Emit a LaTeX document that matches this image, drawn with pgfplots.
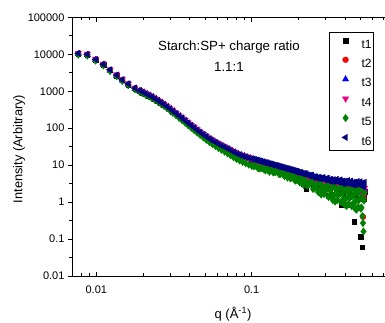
\documentclass[border=0pt]{standalone}
\usepackage{fontspec}
\setmainfont{Liberation Sans}
\usepackage{pgfplots}
\usepackage{pgfplotstable}
\pgfplotsset{compat=1.18}
\definecolor{navyc}{RGB}{0,0,128}
\definecolor{greenc}{RGB}{0,128,0}

\pgfplotstableread{
q t1 t2 t3 t4 t5 t6
0.00766 10280 10280 10180 10810 9750 10600
0.00875 9700 9700 9600 10200 9200 10000
0.0099 7080 7080 7010 7450 6720 7300
0.0111 5240 5240 5180 5510 4970 5400
0.01226 3690 3690 3650 3880 3500 3800
0.01352 2670 2670 2640 2810 2530 2750
0.01469 1990 1990 1970 2090 1890 2050
0.01606 1530 1530 1520 1610 1450 1580
0.01774 1180 1180 1170 1240 1120 1220
0.0190 1020 1020 1009 1072 967 1051
0.0199 922 922 912 969 874 950
0.0208 838 838 829 881 795 864
0.0217 765 765 757 805 726 789
0.0227 693 693 685 728 657 714
0.0238 615 615 609 647 583 634
0.0249 549 549 543 577 521 566
0.0260 487 487 482 512 459 502
0.0272 430 430 425 452 403 443
0.0285 374 374 371 394 347 386
0.0298 328 328 324 345 301 338
0.0311 284 284 281 299 259 293
0.0326 244 244 242 257 221 252
0.0341 210 210 208 221 189 217
0.0356 183 183 181 193 164 189
0.0373 157 157 156 165 139 162
0.0390 135 135 133 142 119 139
0.0408 116 116 115 122 102 120
0.0426 101 101 99.8 106 87.9 104
0.0446 86.9 86.9 86.0 91.4 75.3 89.6
0.0466 75.9 75.9 75.1 79.8 65.3 78.2
0.0488 65.9 65.9 65.2 69.3 56.0 67.9
0.0510 57.7 57.7 57.1 60.7 48.6 59.5
0.0534 50.6 50.6 50.1 53.2 42.1 52.2
0.0558 45.0 45.0 44.5 47.3 37.0 46.4
0.0584 40.4 40.4 39.9 42.4 32.7 41.6
0.0611 36.4 36.4 36.0 38.3 29.1 37.5
0.0639 33.0 33.0 32.6 34.7 26.0 34.0
0.0668 30.1 30.1 29.8 31.6 23.3 31.0
0.0699 27.3 27.3 27.0 28.7 20.8 28.1
0.0731 24.5 24.5 24.3 25.8 18.4 25.3
0.0765 22.1 22.1 21.9 23.3 16.3 22.8
0.0800 20.2 20.2 20.0 21.2 14.6 20.8
0.0837 18.7 18.7 18.5 19.7 13.3 19.3
0.0875 17.5 17.5 17.3 18.4 12.2 18.0
0.0915 16.4 16.4 16.2 17.2 11.2 16.9
0.0957 15.4 15.4 15.3 16.2 10.3 15.9
0.1000 14.3 14.6 14.4 15.3 9.6 15.0
0.105 13.4 13.3 13.5 13.7 9.49 14.1
0.110 12.7 12.6 12.9 13.0 8.20 13.4
0.115 12.1 11.9 12.2 12.3 8.34 12.7
0.120 11.3 11.3 11.5 11.5 7.61 12.0
0.125 10.8 10.8 11.0 11.0 8.20 11.5
0.130 10.2 10.2 10.5 10.4 6.60 10.9
0.135 9.7 9.87 10.1 9.9 7.25 10.5
0.140 9.2 9.40 9.60 9.4 6.55 10.0
0.145 8.8 9.02 9.22 9.0 6.87 9.6
0.150 8.4 8.65 8.83 8.6 5.70 9.2
0.155 8.1 8.37 8.54 8.3 6.01 8.9
0.160 7.7 7.99 8.16 7.9 5.41 8.5
0.165 7.4 7.71 7.87 7.6 6.00 8.2
0.170 7.2 7.43 7.58 7.3 4.60 7.9
0.175 7.0 7.24 7.39 7.1 5.26 7.7
0.180 6.7 6.96 7.10 6.8 4.64 7.4
0.185 6.5 6.77 6.91 6.6 5.14 7.2
0.190 6.2 6.49 6.62 6.35 3.81 6.9
0.195 6.1 6.30 6.43 6.2 4.31 6.7
0.200 4.14 6.11 6.24 6.02 3.76 6.37
0.208 4.95 5.83 5.95 5.63 4.50 6.28
0.216 3.19 5.55 5.66 5.51 2.90 5.86
0.224 2.35 5.26 5.38 4.91 3.69 5.80
0.232 3.37 5.08 5.18 4.84 3.06 5.29
0.240 3.93 4.84 4.94 4.46 3.57 5.34
0.248 2.49 4.64 4.74 4.46 2.26 4.80
0.256 3.08 4.50 4.60 3.96 2.80 4.84
0.264 2.45 4.38 4.47 4.09 2.23 4.41
0.272 3.63 4.25 4.34 3.83 3.30 4.65
0.280 1.76 4.14 4.22 3.96 1.60 4.35
0.288 2.88 4.05 4.14 3.50 2.62 4.59
0.296 2.22 3.98 4.06 3.62 2.02 4.09
0.304 3.07 3.90 3.98 3.40 2.79 4.39
0.312 1.52 3.83 3.91 3.62 1.38 3.89
0.320 2.26 3.76 3.84 3.13 2.05 4.06
0.328 1.63 3.70 3.78 3.43 1.48 3.62
0.336 3.11 3.64 3.72 3.23 2.83 4.03
0.344 1.13 3.58 3.66 3.52 1.03 3.74
0.352 2.33 3.53 3.61 3.00 2.12 4.09
0.360 1.67 3.48 3.55 3.17 1.52 3.53
0.368 2.64 3.44 3.51 2.96 2.40 3.94
0.376 0.85 3.39 3.47 3.25 0.99 3.39
0.384 1.84 3.36 3.43 2.72 1.67 3.64
0.392 1.29 3.33 3.40 3.11 1.17 3.15
0.400 2.82 3.29 3.36 2.91 2.56 3.69
0.408 0.86 3.25 3.32 3.26 0.78 3.38
0.416 2.04 3.21 3.28 2.68 1.85 3.80
0.424 1.39 3.19 3.25 2.91 1.26 3.20
0.432 2.39 3.16 3.23 2.70 2.17 3.66
0.440 0.85 3.13 3.20 3.02 0.77 3.11
0.448 1.58 3.10 3.17 2.50 1.44 3.37
0.456 0.30 3.09 3.16 2.89 0.96 2.93
0.464 2.63 3.07 3.14 2.72 2.39 3.45
0.472 0.68 3.06 3.12 3.07 0.62 3.18
0.480 1.85 3.04 3.10 2.53 1.68 3.59
0.488 1.23 3.02 3.08 2.76 1.12 3.03
0.496 2.33 3.01 3.07 2.57 2.12 3.48
0.504 0.117 2.99 3.05 2.88 0.66 2.97
0.512 0.061 2.95 3.01 2.38 1.31 3.21
0.516 1.30 2.30 2.60 2.20 0.42 3.00
0.520 1.40 0.40 2.20 1.50 0.27 3.30
0.524 1.50 1.30 2.00 2.00 0.16 2.60
0.528 1.20 1.70 2.40 1.60 1.10 2.90
0.532 1.90 2.00 2.30 2.40 1.80 3.40
}\datatable

\pgfplotstableread{
q t5 t6
0.1025 9.34 14.5
0.1075 9.34 13.7
0.1125 8.11 13.0
0.1175 8.26 12.3
0.1225 7.16 11.7
0.1275 7.26 11.2
0.1325 7.49 10.7
0.1375 6.33 10.2
0.1425 6.50 9.8
0.1475 6.79 9.4
0.1525 5.66 9.05
0.1575 5.98 8.7
0.1625 5.05 8.35
0.1675 5.15 8.05
0.1725 5.50 7.8
0.1775 4.37 7.55
0.1825 4.63 7.3
0.1875 5.07 7.05
0.1925 3.84 6.8
0.1975 4.35 6.6
0.204 3.36 6.35
0.212 3.50 5.95
0.220 3.95 5.86
0.228 2.77 5.48
0.236 3.03 5.20
0.244 3.59 5.26
0.252 2.31 4.67
0.260 2.90 4.82
0.268 1.86 4.59
0.276 2.17 4.30
0.284 2.85 4.51
0.292 1.64 4.24
0.300 2.05 4.10
0.308 2.88 4.38
0.316 1.46 3.78
0.324 2.19 4.10
0.332 1.14 3.90
0.340 1.55 3.65
0.348 2.37 3.98
0.356 1.13 3.70
0.364 1.58 3.58
0.372 2.51 3.95
0.380 1.09 3.30
0.388 1.86 3.70
0.396 0.86 3.52
0.404 1.26 3.25
0.412 2.10 3.67
0.420 0.89 3.36
0.428 1.33 3.26
0.436 2.29 3.67
0.444 0.87 3.02
0.452 1.63 3.43
0.460 0.69 3.28
0.468 1.07 3.04
0.476 1.93 3.45
0.484 0.74 3.18
0.492 1.19 3.09
0.500 2.31 3.51
0.508 0.72 2.88
}\hiqtable

\begin{document}
\begin{tikzpicture}
\useasboundingbox (-72.5pt,-46pt) rectangle (312.5pt,276pt);
\begin{axis}[
  at={(0pt,0pt)}, anchor=south west,
  scale only axis, width=313.5pt, height=258.7pt,
  xmode=log, ymode=log,
  xmin=0.007028, xmax=0.7313, ymin=0.01, ymax=100000,
  axis line style={black, line width=0.8pt},
  tick style={black, line width=0.8pt},
  tick align=inside,
  major tick length=4.5pt, minor tick length=3pt,
  xtick={0.01,0.1}, xticklabels={0.01,0.1},
  minor xtick={0.008,0.009,0.02,0.03,0.04,0.05,0.06,0.07,0.08,0.09,0.2,0.3,0.4,0.5,0.6,0.7},
  ytick=\empty,
  /pgf/number format/assume math mode=true,
  xticklabel style={font=\fontsize{11}{11}\selectfont, yshift=-6.5pt},
  xlabel={q (Å\textsuperscript{-1})},
  xlabel style={at={(axis description cs:0.512,0)}, anchor=north, inner sep=0pt, yshift=-30.5pt, font=\fontsize{13}{15}\selectfont},
  legend cell align=left,
  legend image code/.code={\path[draw=none,fill=none] (0pt,0pt) rectangle (30pt,9pt); \draw[#1] plot coordinates {(15pt,4.3pt)};},
  legend style={at={(0.9617,0.942)}, anchor=north east, draw=black, line width=0.8pt,
    inner xsep=1pt, inner ysep=3pt, font=\fontsize{12}{14}\selectfont, row sep=4.5pt,
    nodes={inner xsep=1pt, inner ysep=1pt},
    /tikz/every even column/.append style={column sep=0pt}},
  s1/.style={only marks, mark=square*, mark size=2.3pt, color=black, mark options={solid, fill=black, draw=black, line width=0.2pt}},
  s2/.style={only marks, mark=*, mark size=3pt, color=red, mark options={solid, fill=red, draw=red, line width=0.2pt}},
  s3/.style={only marks, mark=triangle*, mark size=3.8pt, color=blue, mark options={solid, fill=blue, draw=blue, line width=0.2pt}},
  s4/.style={only marks, mark=triangle*, mark size=3.8pt, color=magenta, mark options={solid, rotate=180, fill=magenta, draw=magenta, line width=0.2pt}},
  s5/.style={only marks, mark=diamond*, mark size=3.8pt, color=greenc, mark options={solid, fill=greenc, draw=greenc, line width=0.2pt}},
  s6/.style={only marks, mark=triangle*, mark size=3.8pt, color=navyc, mark options={solid, rotate=90, fill=navyc, draw=navyc, line width=0.2pt}},
]
\addplot[s1] table[x=q, y=t1] {\datatable};
\addlegendentry{t1}
\addplot[s2] table[x=q, y=t2] {\datatable};
\addlegendentry{t2}
\addplot[s3] table[x=q, y=t3] {\datatable};
\addlegendentry{t3}
\addplot[s4] table[x=q, y=t4] {\datatable};
\addlegendentry{t4}
\addplot[s5] table[x=q, y=t5] {\datatable};
\addlegendentry{t5}
\addplot[s5, forget plot] table[x=q, y=t5] {\hiqtable};
\addplot[s6] table[x=q, y=t6] {\datatable};
\addlegendentry{t6}
\addplot[s6, forget plot] table[x=q, y=t6] {\hiqtable};
\node[anchor=base, font=\fontsize{13.3}{16}\selectfont] at (axis description cs:0.499,0.871) {Starch:SP+ charge ratio};
\node[anchor=base, font=\fontsize{13.3}{16}\selectfont] at (axis description cs:0.499,0.790) {1.1:1};
\end{axis}
\begin{axis}[
  at={(0pt,0pt)}, anchor=south west,
  scale only axis, width=313.5pt, height=258.7pt,
  xmode=log, ymode=log,
  xmin=0.007028, xmax=0.7313, ymin=0.01, ymax=100000,
  hide x axis,
  axis line style={black, line width=0.8pt},
  tick style={black, line width=0.8pt},
  tick align=outside, ytick pos=left,
  major tick length=4.5pt, minor tick length=3.5pt,
  ytick={0.01,0.1,1,10,100,1000,10000,100000},
  yticklabels={0.01,0.1,1,10,100,1000,10000,100000},
  minor ytick={0.0316,0.316,3.16,31.6,316,3162,31623},
  /pgf/number format/assume math mode=true,
  yticklabel style={font=\fontsize{11}{11}\selectfont},
  ylabel={Intensity (Arbitrary)},
  ylabel style={at={(axis description cs:-0.1707,0.491)}, anchor=center, font=\fontsize{12.8}{15}\selectfont},
]
\end{axis}
\end{tikzpicture}
\end{document}
